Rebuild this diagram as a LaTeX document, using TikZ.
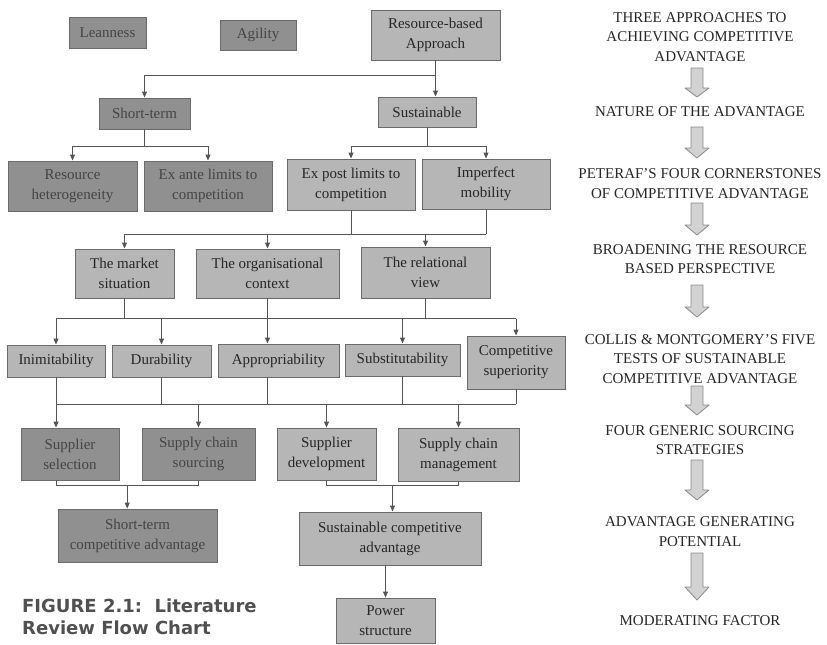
\documentclass[tikz,border=0pt]{standalone}
\usepackage{fontspec}
\setmainfont{Liberation Serif}
\newfontfamily\capfont{DejaVu Sans}
\usetikzlibrary{arrows.meta,calc}

\definecolor{boxlight}{HTML}{B6B6B6}
\definecolor{boxdark}{HTML}{909090}
\definecolor{boxedge}{HTML}{6A6A6A}
\definecolor{wirecol}{HTML}{555555}
\definecolor{ink}{HTML}{262626}
\definecolor{inkdim}{HTML}{444444}
\definecolor{tagfill}{HTML}{D2D2D2}
\definecolor{tagedge}{HTML}{8A8A8A}
\definecolor{capink}{HTML}{505050}

\tikzset{
  box/.style={draw=boxedge, line width=0.9pt, inner sep=0pt, align=center,
    font=\fontsize{15}{20}\selectfont},
  lightbox/.style={box, fill=boxlight, text=ink},
  darkbox/.style={box, fill=boxdark, text=inkdim},
  wire/.style={draw=wirecol, line width=0.9pt},
  arr/.style={wire, -{Triangle[length=6pt,width=5pt]}},
  stage/.style={text=ink, align=center, inner sep=0pt,
    font=\fontsize{15}{19.5}\selectfont},
  fat/.style={fill=tagfill, draw=tagedge, line width=0.8pt, line join=round},
}

% hollow down arrow between stages: top y, head start y, tip y
\newcommand\stagearrow[3]{%
  \draw[fat] (691,#1) -- (703,#1) -- (703,#2) -- (709,#2) -- (697,#3)
    -- (685,#2) -- (691,#2) -- cycle;}

\begin{document}
\begin{tikzpicture}[x=1pt,y=-1pt]
\useasboundingbox (0,0) rectangle (827,645);

% ---- approaches
\node[darkbox, minimum width=77pt, minimum height=31pt] (lean) at (107.5,32.5) {Leanness};
\node[darkbox, minimum width=76pt, minimum height=30pt] (agil) at (258,35) {Agility};
\node[lightbox, minimum width=129pt, minimum height=50pt] (rba) at (435.5,35) {Resource-based\\Approach};

% ---- nature of the advantage
\node[darkbox, minimum width=91pt, minimum height=31pt] (st) at (144.5,113.5) {Short-term};
\node[lightbox, minimum width=98pt, minimum height=30pt] (su) at (427,112) {Sustainable};

% ---- cornerstones
\node[darkbox, minimum width=129pt, minimum height=50pt] (rh) at (72.5,186) {Resource\\heterogeneity};
\node[darkbox, minimum width=128pt, minimum height=50pt] (ea) at (208,186) {Ex ante limits to\\competition};
\node[lightbox, minimum width=128pt, minimum height=51pt] (ep) at (351,184.5) {Ex post limits to\\competition};
\node[lightbox, minimum width=128pt, minimum height=50pt] (im) at (486,184) {Imperfect\\mobility};

% ---- broadened perspective
\node[lightbox, minimum width=99pt, minimum height=49pt] (ms) at (124.5,273.5) {The market\\situation};
\node[lightbox, minimum width=143pt, minimum height=49pt] (oc) at (267.5,273.5) {The organisational\\context};
\node[lightbox, minimum width=129pt, minimum height=51pt] (rv) at (425.5,272.5) {The relational\\view};

% ---- five tests
\node[lightbox, minimum width=98pt, minimum height=32pt] (ini) at (56,361) {Inimitability};
\node[lightbox, minimum width=99pt, minimum height=32pt] (dur) at (161.5,361) {Durability};
\node[lightbox, minimum width=121pt, minimum height=33pt] (app) at (278.5,360.5) {Appropriability};
\node[lightbox, minimum width=115pt, minimum height=32pt] (sub) at (402.5,360) {Substitutability};
\node[lightbox, minimum width=98pt, minimum height=53pt] (cs) at (516,362.5) {Competitive\\superiority};

% ---- sourcing strategies
\node[darkbox, minimum width=98pt, minimum height=52pt] (ss) at (70,454) {Supplier\\selection};
\node[darkbox, minimum width=113pt, minimum height=52pt] (scs) at (198.5,454) {Supply chain\\sourcing};
\node[lightbox, minimum width=99pt, minimum height=52pt] (sd) at (326.5,454) {Supplier\\development};
\node[lightbox, minimum width=121pt, minimum height=53pt] (scm) at (458.5,454.5) {Supply chain\\management};

% ---- outcomes
\node[darkbox, minimum width=159pt, minimum height=53pt] (stca) at (137.5,535.5) {Short-term\\competitive advantage};
\node[lightbox, minimum width=182pt, minimum height=53pt] (sca) at (390,538.5) {Sustainable competitive\\advantage};
\node[lightbox, minimum width=99pt, minimum height=45pt] (ps) at (385.5,620.5) {Power\\structure};

% ---- bus levels
\coordinate (busR) at (0,75);
\coordinate (busS) at (0,146);
\coordinate (busA) at (0,234);
\coordinate (busB) at (0,318.5);
\coordinate (busC) at (0,404);
\coordinate (busD) at (0,485);

% resource-based approach -> short-term / sustainable
\draw[wire] (rba.south) -- (rba.south |- busR) -- (st.north |- busR);
\draw[arr] (st.north |- busR) -- (st.north);
\draw[arr] (rba.south |- busR) -- (rba.south |- su.north);

% short-term -> ex ante / heterogeneity
\draw[wire] (st.south) -- (st.south |- busS);
\draw[wire] (rh.north |- busS) -- (ea.north |- busS);
\draw[arr] (rh.north |- busS) -- (rh.north);
\draw[arr] (ea.north |- busS) -- (ea.north);

% sustainable -> ex post / mobility
\draw[wire] (su.south) -- (su.south |- busS);
\draw[wire] (ep.north |- busS) -- (im.north |- busS);
\draw[arr] (ep.north |- busS) -- (ep.north);
\draw[arr] (im.north |- busS) -- (im.north);

% cornerstones -> broadened perspective
\draw[wire] (ep.south) -- (ep.south |- busA);
\draw[wire] (im.south) -- (im.south |- busA);
\draw[wire] (ms.north |- busA) -- (im.south |- busA);
\draw[arr] (ms.north |- busA) -- (ms.north);
\draw[arr] (oc.north |- busA) -- (oc.north);
\draw[arr] (rv.north |- busA) -- (rv.north);

% broadened perspective -> five tests
\draw[wire] (ms.south) -- (ms.south |- busB);
\draw[wire] (rv.south) -- (rv.south |- busB);
\draw[wire] (ini.north |- busB) -- (cs.north |- busB);
\draw[arr] (ini.north |- busB) -- (ini.north);
\draw[arr] (dur.north |- busB) -- (dur.north);
\draw[arr] (oc.south) -- (oc.south |- app.north);
\draw[arr] (sub.north |- busB) -- (sub.north);
\draw[arr] (cs.north |- busB) -- (cs.north);

% five tests -> sourcing strategies
\draw[wire] (ini.south) -- (ini.south |- busC);
\draw[wire] (dur.south) -- (dur.south |- busC);
\draw[wire] (app.south -| oc.south) -- (oc.south |- busC);
\draw[wire] (sub.south) -- (sub.south |- busC);
\draw[wire] (cs.south) -- (cs.south |- busC);
\draw[wire] (ini.south |- busC) -- (cs.south |- busC);
\draw[arr] (ini.south |- busC) -- (ini.south |- ss.north);
\draw[arr] (scs.north |- busC) -- (scs.north);
\draw[arr] (sd.north |- busC) -- (sd.north);
\draw[arr] (scm.north |- busC) -- (scm.north);

% sourcing strategies -> outcomes
\draw[wire] (ini.south |- ss.south) -- (ini.south |- busD) -- (scs.south |- busD) -- (scs.south);
\draw[arr] ($(ini.south |- busD)!0.5!(scs.south |- busD)$) -- ($(ini.south |- stca.north)!0.5!(scs.south |- stca.north)$);
\draw[wire] (sd.south) -- (sd.south |- busD) -- (scm.south |- busD) -- (scm.south);
\draw[arr] ($(sd.south |- busD)!0.5!(scm.south |- busD)$) -- ($(sd.south |- sca.north)!0.5!(scm.south |- sca.north)$);
\draw[arr] (ps.north |- sca.south) -- (ps.north);

% ---- stages of the review
\node[stage] (s1) at (700,37) {THREE APPROACHES TO\\ACHIEVING COMPETITIVE\\ADVANTAGE};
\node[stage] (s2) at (700,112) {NATURE OF THE ADVANTAGE};
\node[stage] (s3) at (700,183.5) {PETERAF'S FOUR CORNERSTONES\\OF COMPETITIVE ADVANTAGE};
\node[stage] (s4) at (700,259) {BROADENING THE RESOURCE\\BASED PERSPECTIVE};
\node[stage] (s5) at (700,359) {COLLIS \& MONTGOMERY'S FIVE\\TESTS OF SUSTAINABLE\\COMPETITIVE ADVANTAGE};
\node[stage] (s6) at (700,440) {FOUR GENERIC SOURCING\\STRATEGIES};
\node[stage] (s7) at (700,531.5) {ADVANTAGE GENERATING\\POTENTIAL};
\node[stage] (s8) at (700,621) {MODERATING FACTOR};

\stagearrow{68}{88}{97}
\stagearrow{127}{148}{158}
\stagearrow{203}{225}{235}
\stagearrow{285}{307}{317}
\stagearrow{386}{405}{415}
\stagearrow{460}{490}{500}
\stagearrow{553}{587}{600}

% ---- caption
\node[anchor=west, inner sep=0pt, align=left, text=capink,
  font=\capfont\bfseries\fontsize{18}{22}\selectfont] (cap) at (22,617)
  {FIGURE 2.1:\ \ Literature\\Review Flow Chart};
\end{tikzpicture}
\end{document}
